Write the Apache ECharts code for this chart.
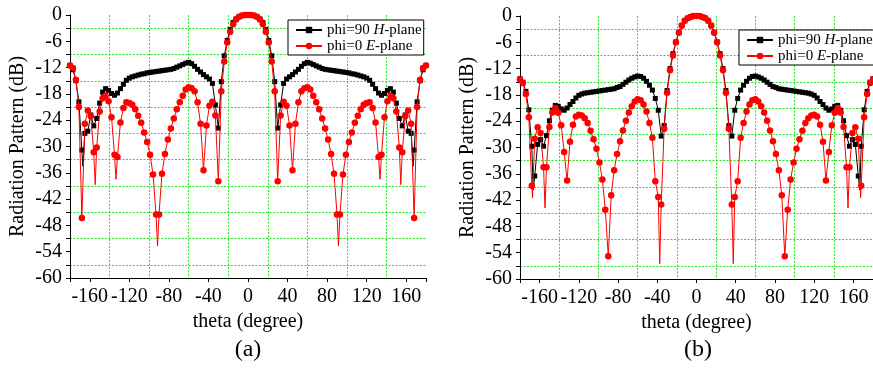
<!DOCTYPE html>
<html>
<head>
<meta charset="utf-8">
<script src="https://cdn.jsdelivr.net/npm/echarts@6/dist/echarts.min.js"></script>
<style>
  html, body { margin: 0; padding: 0; background: #fff; }
  #chart { width: 873px; height: 368px; }
</style>
</head>
<body>
<div id="chart"></div>
<script>
// sample angles (deg) of the plotted markers, every 3 degrees
const thetaDeg = [
  -180,-177,-174,-171,-168,-165,-162,-159,-156,-153,-150,-147,-144,-141,-138,-135,-132,-129,-126,-123,
  -120,-117,-114,-111,-108,-105,-102,-99,-96,-93,-90,-87,-84,-81,-78,-75,-72,-69,-66,-63,
  -60,-57,-54,-51,-48,-45,-42,-39,-36,-33,-30,-27,-24,-21,-18,-15,-12,-9,-6,-3,
  0,3,6,9,12,15,18,21,24,27,30,33,36,39,42,45,48,51,54,57,
  60,63,66,69,72,75,78,81,84,87,90,93,96,99,102,105,108,111,114,117,
  120,123,126,129,132,135,138,141,144,147,150,153,156,159,162,165,168,171,174,177,180
];

// panel (a)
const aPlaneH = [
  -11.5,-12.5,-15.0,-19.8,-30.8,-27.0,-26.5,-22.8,-25.3,-23.6,-20.1,-17.6,-16.8,-17.2,-17.9,-18.3,-17.8,-16.8,-15.8,-14.9,
  -14.4,-14.1,-13.9,-13.7,-13.5,-13.4,-13.2,-13.1,-13.0,-12.9,-12.8,-12.7,-12.6,-12.5,-12.4,-12.2,-11.9,-11.6,-11.3,-11.0,
  -10.8,-11.1,-11.7,-12.4,-13.0,-13.6,-14.1,-14.6,-15.6,-20.5,-25.8,-15.2,-9.3,-5.8,-3.3,-1.7,-0.9,-0.4,-0.1,0,
  0,0,-0.1,-0.4,-0.9,-1.7,-3.3,-5.8,-9.3,-15.2,-25.8,-20.5,-15.6,-14.6,-14.1,-13.6,-13.0,-12.4,-11.7,-11.1,
  -10.8,-11.0,-11.3,-11.6,-11.9,-12.2,-12.4,-12.5,-12.6,-12.7,-12.8,-12.9,-13.0,-13.1,-13.2,-13.4,-13.5,-13.7,-13.9,-14.1,
  -14.4,-14.9,-15.8,-16.8,-17.8,-18.3,-17.9,-17.2,-16.8,-17.6,-20.1,-23.6,-25.3,-22.8,-26.5,-27.0,-30.8,-19.8,-15.0,-12.5,-11.5
];
const aPlaneE = [
  -11.5,-12.1,-14.8,-21.0,-46.3,-24.8,-21.8,-23.1,-31.3,-30.2,-22.0,-19.0,-18.4,-19.7,-23.3,-31.9,-32.4,-24.5,-21.2,-19.9,
  -20.1,-20.5,-21.5,-23.0,-24.6,-26.8,-29.0,-31.9,-36.4,-45.5,-45.5,-36.2,-31.7,-28.4,-25.9,-23.6,-21.5,-19.9,-18.4,-17.0,
  -16.5,-16.7,-17.4,-19.9,-24.8,-35.4,-25.2,-20.7,-19.8,-22.9,-37.9,-17.4,-10.6,-6.3,-3.8,-2.1,-1.0,-0.4,-0.1,0,
  0,0,-0.1,-0.4,-1.0,-2.1,-3.8,-6.3,-10.6,-17.4,-37.9,-22.9,-19.8,-20.7,-25.2,-35.4,-24.8,-19.9,-17.4,-16.7,
  -16.5,-17.0,-18.4,-19.9,-21.5,-23.6,-25.9,-28.4,-31.7,-36.2,-45.5,-45.5,-36.4,-31.9,-29.0,-26.8,-24.6,-23.0,-21.5,-20.5,
  -20.1,-19.9,-21.2,-24.5,-32.4,-31.9,-23.3,-19.7,-18.4,-19.0,-22.0,-30.2,-31.3,-23.1,-21.8,-24.8,-46.3,-21.0,-14.8,-12.1,-11.5
];
// deep nulls between markers (line only, no marker)
const aNullsH = [[-167, -34.5], [167, -34.5]];
const aNullsE = [[-154.5, -38.7], [-133.5, -37.5], [-91.5, -52.7], [91.5, -52.7], [133.5, -37.5], [154.5, -38.7]];

// panel (b)
const bPlaneH = [
  -14.3,-15.1,-17.2,-21.4,-29.7,-36.5,-29.3,-28.2,-29.7,-27.3,-23.9,-21.5,-20.4,-20.6,-21.2,-21.5,-21.0,-20.2,-19.5,-18.7,
  -18.1,-17.8,-17.6,-17.5,-17.4,-17.3,-17.2,-17.1,-17.0,-16.9,-16.8,-16.7,-16.6,-16.3,-16.1,-15.6,-15.1,-14.6,-14.2,-13.9,
  -13.7,-13.8,-14.2,-14.9,-15.8,-16.9,-18.8,-21.5,-27.4,-25.0,-17.0,-12.0,-8.6,-5.9,-3.7,-2.1,-1.1,-0.5,-0.2,0,
  0,0,-0.2,-0.5,-1.1,-2.1,-3.7,-5.9,-8.6,-12.0,-17.0,-25.0,-27.4,-21.5,-18.8,-16.9,-15.8,-14.9,-14.2,-13.8,
  -13.7,-13.9,-14.2,-14.6,-15.1,-15.6,-16.1,-16.3,-16.6,-16.7,-16.8,-16.9,-17.0,-17.1,-17.2,-17.3,-17.4,-17.5,-17.6,-17.8,
  -18.1,-18.7,-19.5,-20.2,-21.0,-21.5,-21.2,-20.6,-20.4,-21.5,-23.9,-27.3,-29.7,-28.2,-29.3,-36.5,-29.7,-21.4,-17.2,-15.1,-14.3
];
const bPlaneE = [
  -14.5,-15.3,-17.8,-23.1,-38.7,-28.0,-25.4,-26.7,-34.5,-34.5,-25.3,-22.0,-21.0,-22.1,-24.9,-31.0,-37.5,-28.7,-24.8,-22.9,
  -22.5,-22.7,-23.3,-24.4,-26.2,-28.1,-30.3,-33.4,-37.3,-44.2,-54.8,-40.9,-35.2,-31.5,-28.6,-26.1,-23.9,-22.0,-20.6,-19.5,
  -19.0,-19.2,-20.2,-21.8,-24.4,-27.8,-37.7,-41.3,-43.0,-25.7,-17.5,-12.4,-9.0,-6.0,-3.8,-2.2,-1.1,-0.5,-0.2,0,
  0,0,-0.2,-0.5,-1.1,-2.2,-3.8,-6.0,-9.0,-12.4,-17.5,-25.7,-43.0,-41.3,-37.7,-27.8,-24.4,-21.8,-20.2,-19.2,
  -19.0,-19.5,-20.6,-22.0,-23.9,-26.1,-28.6,-31.5,-35.2,-40.9,-54.8,-44.2,-37.3,-33.4,-30.3,-28.1,-26.2,-24.4,-23.3,-22.7,
  -22.5,-22.9,-24.8,-28.7,-37.5,-31.0,-24.9,-22.1,-21.0,-22.0,-25.3,-34.5,-34.5,-26.7,-25.4,-28.0,-38.7,-23.1,-17.8,-15.3,-14.5
];
const bNullsH = [[-166.5, -39.7], [166.5, -39.7]];
const bNullsE = [[-167.3, -41.5], [-154.5, -43.8], [-37.5, -56.5], [37.5, -56.5], [154.5, -43.8], [167.3, -41.5]];

const xLabelValues = [-160, -120, -80, -40, 0, 40, 80, 120, 160];
const xTickValues = [-180, -160, -120, -80, -40, 0, 40, 80, 120, 160, 180];
const seriesNames = ['phi=90 H-plane', 'phi=0 E-plane'];
const panelLabels = ['(a)', '(b)'];

const SERIF = "'Liberation Serif', 'Times New Roman', serif";
const GREEN = '#22e622';

const panels = [
  { h: aPlaneH, e: aPlaneE, hNulls: aNullsH, eNulls: aNullsE,
    grid: { left: 70, top: 15, width: 356, height: 263 },
    legend: { left: 288, top: 20 }, labelX: 248 },
  { h: bPlaneH, e: bPlaneE, hNulls: bNullsH, eNulls: bNullsE,
    grid: { left: 520, top: 16, width: 354, height: 263 },
    legend: { left: 739, top: 30 }, labelX: 698 },
];

function buildPoints(values, nulls) {
  const pts = thetaDeg.map((t, i) => ({ value: [t, values[i]] }));
  nulls.forEach(([t, v]) => pts.push({ value: [t, v], symbol: 'none' }));
  return pts.sort((a, b) => a.value[0] - b.value[0]);
}

const chart = echarts.init(document.getElementById('chart'), null, { renderer: 'canvas' });

const grid = [], xAxis = [], yAxis = [], series = [], legend = [], graphic = [];

panels.forEach((p, gi) => {
  grid.push(p.grid);

  xAxis.push({
    type: 'value', gridIndex: gi, min: -180, max: 180, position: 'bottom',
    axisLine: { onZero: false, lineStyle: { color: '#000', width: 1 } },
    axisTick: { show: true, customValues: xTickValues, length: 4, lineStyle: { color: '#000' } },
    axisLabel: { customValues: xLabelValues, color: '#000', fontFamily: SERIF, fontSize: 20, margin: 9 },
    splitLine: { show: false },
    name: 'theta (degree)', nameLocation: 'middle', nameGap: 33,
    nameTextStyle: { color: '#000', fontFamily: SERIF, fontSize: 20 },
  });
  // grid-only axis for the vertical green lines
  xAxis.push({
    type: 'value', gridIndex: gi, min: -180, max: 180, interval: 40, position: 'bottom',
    axisLine: { show: false }, axisTick: { show: false }, axisLabel: { show: false },
    splitLine: { show: true, showMinLine: false, showMaxLine: false,
      lineStyle: { color: GREEN, type: [2, 1.5], width: 1 } },
  });

  yAxis.push({
    type: 'value', gridIndex: gi, min: -60, max: 0, interval: 6,
    axisLine: { show: true, onZero: false, lineStyle: { color: '#000', width: 1 } },
    axisTick: { show: true, length: 4, lineStyle: { color: '#000' } },
    minorTick: { show: true, splitNumber: 2, length: 4, lineStyle: { color: '#000' } },
    splitLine: { show: false },
    minorSplitLine: { show: true, lineStyle: { color: GREEN, type: [2, 1.5], width: 1 } },
    axisLabel: { color: '#000', fontFamily: SERIF, fontSize: 20, margin: 8 },
    name: 'Radiation Pattern (dB)', nameLocation: 'middle', nameGap: 42,
    nameTextStyle: { color: '#000', fontFamily: SERIF, fontSize: 20 },
  });

  series.push({
    name: seriesNames[0], type: 'line', xAxisIndex: gi * 2, yAxisIndex: gi,
    data: buildPoints(p.h, p.hNulls),
    symbol: 'rect', symbolSize: 5, showSymbol: true, showAllSymbol: true, clip: false,
    lineStyle: { color: '#000', width: 1 }, itemStyle: { color: '#000' }, z: 3,
  });
  series.push({
    name: seriesNames[1], type: 'line', xAxisIndex: gi * 2, yAxisIndex: gi,
    data: buildPoints(p.e, p.eNulls),
    symbol: 'circle', symbolSize: 6.5, showSymbol: true, showAllSymbol: true, clip: false,
    lineStyle: { color: '#ff0000', width: 1 }, itemStyle: { color: '#ff0000' }, z: 4,
  });

  legend.push({
    data: seriesNames, orient: 'vertical', left: p.legend.left, top: p.legend.top,
    itemWidth: 26, itemHeight: 8, itemGap: 0,
    padding: [2, 2, 1, 7], borderColor: '#000', borderWidth: 1, backgroundColor: '#fff',
    selectedMode: false,
    formatter: (name) => name.replace(/^(\S+) ([HE])(-plane)$/, '{n|$1 }{i|$2}{n|$3}'),
    textStyle: {
      color: '#000', fontFamily: SERIF, fontSize: 15, lineHeight: 16,
      rich: {
        n: { fontFamily: SERIF, fontSize: 15, color: '#000' },
        i: { fontFamily: SERIF, fontSize: 15, color: '#000', fontStyle: 'italic' },
      },
    },
  });

  graphic.push({
    type: 'text', x: p.labelX, y: 338, silent: true,
    style: { text: panelLabels[gi], font: `24px ${SERIF}`, fill: '#000', textAlign: 'center' },
  });
});

chart.setOption({
  animation: false,
  backgroundColor: '#fff',
  grid, xAxis, yAxis, series, legend, graphic,
});
</script>
</body>
</html>
